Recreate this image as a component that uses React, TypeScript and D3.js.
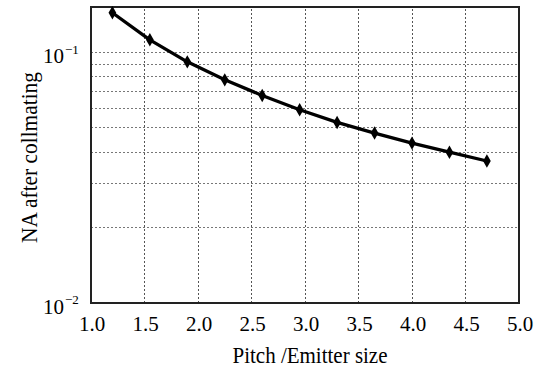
import * as d3 from 'd3';

// data
const pitch = [1.2, 1.55, 1.9, 2.25, 2.6, 2.95, 3.3, 3.65, 4.0, 4.35, 4.7];
const na = [0.1442, 0.1124, 0.0918, 0.0778, 0.0674, 0.0591, 0.0526, 0.0477, 0.0435, 0.04, 0.0369];
const xTicks = [1.0, 1.5, 2.0, 2.5, 3.0, 3.5, 4.0, 4.5, 5.0];
const yMajor = [0.01, 0.1];
const yMajorExp = ['\u22122', '\u22121'];
const yGrid = [0.02, 0.03, 0.04, 0.05, 0.06, 0.07, 0.08, 0.09, 0.1];

const width = 543;
const height = 370;
const margin = { top: 7, right: 24, bottom: 67, left: 91 };
const serif = { fontFamily: "'Liberation Serif'" };

export default function App() {
  const x = d3.scaleLinear().domain([1, 5]).range([margin.left, width - margin.right]);
  const y = d3.scaleLog().domain([0.01, 0.152]).range([height - margin.bottom, margin.top]);

  const line = d3.line<number>()
    .x((_, i) => x(pitch[i]))
    .y((d) => y(d));

  const diamond = d3.symbol().type(d3.symbolDiamond).size(52)();

  const x0 = margin.left;
  const x1 = width - margin.right;
  const y0 = height - margin.bottom;
  const y1 = margin.top;

  return (
    <svg
      width={width}
      height={height}
      style={{ position: 'absolute', left: 0, top: 0, background: '#fff' }}
    >
      {/* grid */}
      <g stroke="#555" strokeWidth={1} strokeDasharray="2,2" shapeRendering="crispEdges">
        {xTicks.slice(1, -1).map((t) => (
          <line key={'gx' + t} x1={x(t)} x2={x(t)} y1={y0} y2={y1} />
        ))}
        {yGrid.map((t) => (
          <line key={'gy' + t} x1={x0} x2={x1} y1={y(t)} y2={y(t)} stroke="#777" />
        ))}
      </g>

      {/* frame */}
      <rect
        x={x0}
        y={y1}
        width={x1 - x0}
        height={y0 - y1}
        fill="none"
        stroke="#222"
        strokeWidth={1.4}
        shapeRendering="crispEdges"
      />

      {/* series */}
      <path d={line(na) ?? ''} fill="none" stroke="#000" strokeWidth={3.3} strokeLinejoin="round" />
      {na.map((v, i) => (
        <path key={i} d={diamond ?? ''} transform={`translate(${x(pitch[i])},${y(v)})`} fill="#000" />
      ))}

      {/* x tick labels */}
      {xTicks.map((t) => (
        <text key={'xt' + t} x={x(t) + 1} y={331} textAnchor="middle" fontSize={21} fill="#000" style={serif}>
          {t.toFixed(1)}
        </text>
      ))}

      {/* y tick labels */}
      {yMajor.map((t, i) => (
        <g key={'yt' + t} style={serif}>
          <text x={64} y={y(t) + 10.5} textAnchor="end" fontSize={21} fill="#000">10</text>
          <text x={65} y={y(t) + 1} fontSize={13} fill="#000">{yMajorExp[i]}</text>
        </g>
      ))}

      {/* axis labels */}
      <text
        x={310}
        y={363}
        textAnchor="middle"
        fontSize={23}
        textLength={155}
        lengthAdjust="spacingAndGlyphs"
        fill="#000"
        style={serif}
      >
        Pitch /Emitter size
      </text>
      <text
        transform={`translate(36.5,${157.5}) rotate(-90)`}
        textAnchor="middle"
        fontSize={24}
        textLength={171}
        lengthAdjust="spacingAndGlyphs"
        fill="#000"
        style={serif}
      >
        NA after collmating
      </text>
    </svg>
  );
}
